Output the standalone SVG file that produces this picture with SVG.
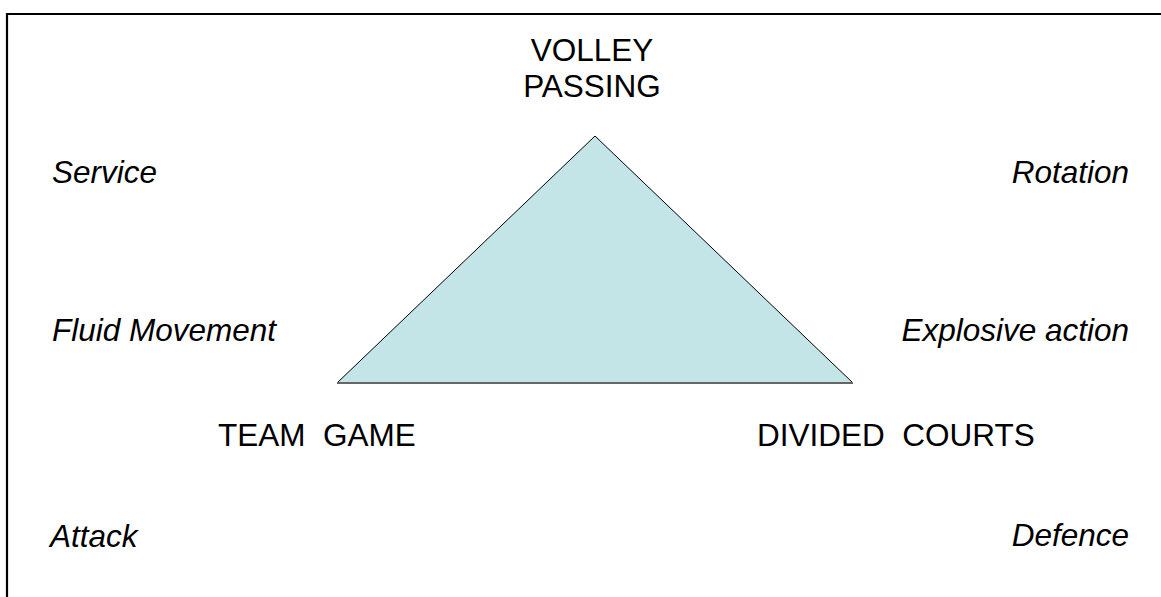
<svg xmlns="http://www.w3.org/2000/svg" width="1161" height="597" viewBox="0 0 1161 597">
<style>
text{font-family:"Liberation Sans",Arial,sans-serif;font-size:31.5px;fill:#000}
.i{font-style:italic}
.m{text-anchor:middle}
.e{text-anchor:end}
</style>
<rect width="1161" height="597" fill="#fff"/>
<g id="frame"><path d="M7 597V14H1161" fill="none" stroke="#000" stroke-width="2.2"/></g>
<g id="triangle">
<polygon points="595,136 337,383 853,383" fill="#C4E5E8" stroke="none"/>
<path d="M337 383L595 136L853 383" fill="none" stroke="#000" stroke-width="1"/>
<path d="M337 383H853" fill="none" stroke="#666" stroke-width="2"/>
</g>
<g id="connectors"></g>
<g id="top-label"><text class="m" x="592" y="61">VOLLEY</text><text class="m" x="592" y="97">PASSING</text></g>
<g id="team-game"><text x="218" y="446" xml:space="preserve">TEAM  GAME</text></g>
<g id="divided-courts"><text x="757" y="446" xml:space="preserve">DIVIDED  COURTS</text></g>
<g id="service"><text class="i" x="52" y="183">Service</text></g>
<g id="fluid"><text class="i" x="52" y="341">Fluid Movement</text></g>
<g id="attack"><text class="i" x="50" y="547">Attack</text></g>
<g id="rotation"><text class="i e" x="1129" y="183">Rotation</text></g>
<g id="explosive"><text class="i e" x="1129" y="341">Explosive action</text></g>
<g id="defence"><text class="i e" x="1129" y="546">Defence</text></g>
</svg>
